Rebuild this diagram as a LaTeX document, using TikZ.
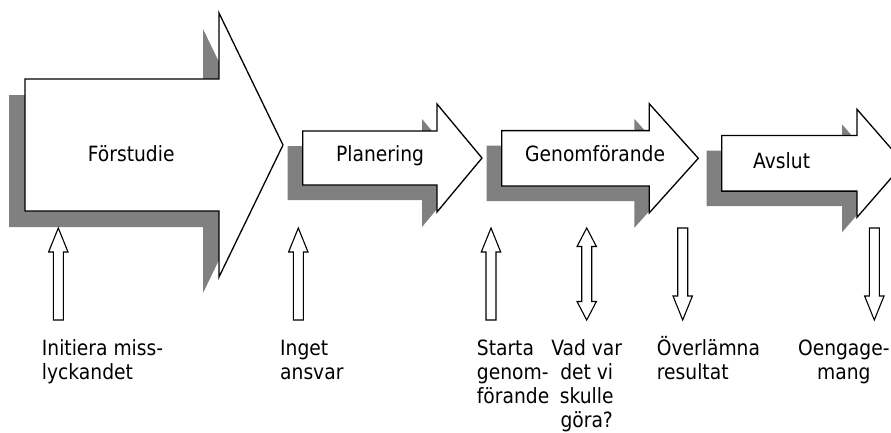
\documentclass[tikz,border=0pt]{standalone}
\usepackage{fontspec}
\newfontfamily\phasefont{DejaVu Sans}[FakeStretch=0.89]
\definecolor{shadegray}{HTML}{808080}
\tikzset{
  phase/.style={draw, fill=white, line width=1.3pt, line join=miter},
  phase shadow/.style={fill=shadegray},
  marker/.style={draw, fill=white, line width=1.1pt, line join=miter},
  phasetext/.style={font=\phasefont\fontsize{21}{24}\selectfont, inner sep=0pt},
  notetext/.style={phasetext, align=left, anchor=base west},
}
% left, mid y, body half height, head x, head half height, tip x, shadow offset
\newcommand{\phasearrow}[7]{%
  \fill[phase shadow, shift={(-#7,#7)}] (#1,#2-#3) -- (#4,#2-#3) -- (#4,#2-#5) -- (#6,#2)
    -- (#4,#2+#5) -- (#4,#2+#3) -- (#1,#2+#3) -- cycle;
  \draw[phase] (#1,#2-#3) -- (#4,#2-#3) -- (#4,#2-#5) -- (#6,#2)
    -- (#4,#2+#5) -- (#4,#2+#3) -- (#1,#2+#3) -- cycle;}
\newcommand{\pointerup}[1]{%
  \draw[marker] (#1,228) -- (#1+9.7,252) -- (#1+5,252) -- (#1+5,320) -- (#1-5,320)
    -- (#1-5,252) -- (#1-9.7,252) -- cycle;}
\newcommand{\pointerdown}[1]{%
  \draw[marker] (#1-5,228) -- (#1+5,228) -- (#1+5,296) -- (#1+9.7,296) -- (#1,320)
    -- (#1-9.7,296) -- (#1-5,296) -- cycle;}
\newcommand{\pointerboth}[1]{%
  \draw[marker] (#1,228) -- (#1+9.7,246.5) -- (#1+5,246.5) -- (#1+5,301.5) -- (#1+9.7,301.5)
    -- (#1,320) -- (#1-9.7,301.5) -- (#1-5,301.5) -- (#1-5,246.5) -- (#1-9.7,246.5) -- cycle;}
\begin{document}
\begin{tikzpicture}[x=1pt, y=-1pt]
  \useasboundingbox (0,0) rectangle (891,432);
  \clip (0,0) rectangle (891,432);
  \phasearrow{25}{145}{66}{219}{132}{283}{16}
  \phasearrow{302.7}{158}{27}{437}{54}{482}{15}
  \phasearrow{501.7}{158.3}{27.7}{649.3}{54.5}{698.3}{15}
  \phasearrow{721.7}{163.3}{27.8}{857}{54}{904}{15}
  \path
    (131.2,161.5) node[phasetext, anchor=base] (forstudie) {Förstudie}
    (336,161) node[phasetext, anchor=base west] (planering) {Planering}
    (525,161) node[phasetext, anchor=base west] (genomforande) {Genomförande}
    (753,168.3) node[phasetext, anchor=base west] (avslut) {Avslut};
  \pointerup{58.3}
  \pointerup{298.3}
  \pointerup{491}
  \pointerboth{586.7}
  \pointerdown{682.7}
  \pointerdown{874.3}
  \path
    (41.7,379) node[notetext] (initiera) {Initiera miss-\\lyckandet}
    (280,379) node[notetext] (inget) {Inget\\ansvar}
    (476.7,403) node[notetext] (starta) {Starta\\genom-\\förande}
    (586.7,427) node[notetext, align=center, anchor=base] (vadvar) {Vad var\\det vi\\skulle\\göra?}
    (656.7,379) node[notetext] (overlamna) {Överlämna\\resultat}
    (843.8,379) node[notetext, align=center, anchor=base] (oengage) {Oengage-\\mang};
\end{tikzpicture}
\end{document}
